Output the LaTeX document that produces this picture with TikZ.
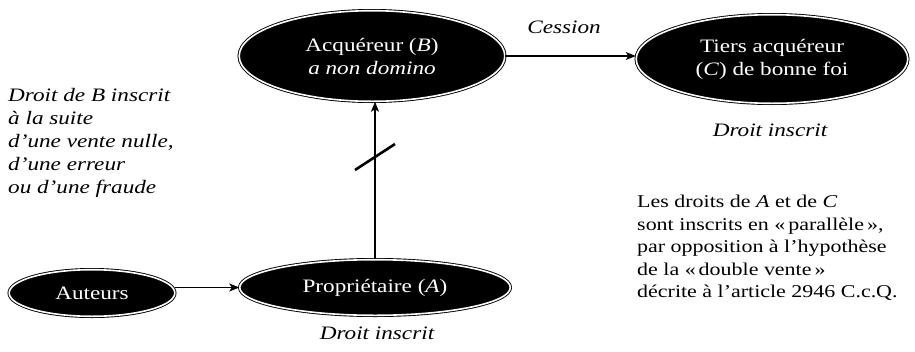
\documentclass[tikz,border=0pt]{standalone}
\usepackage{fontspec}
\setmainfont{Liberation Serif}[FakeStretch=1.22]
\usetikzlibrary{shapes.geometric,arrows.meta}
\begin{document}
\begin{tikzpicture}[x=1pt,y=-1pt,
  blob/.style={ellipse, draw=black, line width=0.9pt, double=white, double distance=1.6pt,
    fill=black, text=white, inner sep=0pt, align=center, font=\fontsize{19}{23}\selectfont},
  arr/.style={-{Stealth[length=10pt,width=8pt,inset=2.5pt]}, line width=1.1pt},
  lab/.style={font=\fontsize{19}{23}\selectfont\itshape, inner sep=0pt},
  note/.style={font=\fontsize{18}{22.5}\selectfont, align=left, inner sep=0pt},
  inote/.style={font=\fontsize{19}{23}\selectfont\itshape, align=left, inner sep=0pt}]
\fill[white] (0,0) rectangle (915,351);
\useasboundingbox (0,0) rectangle (915,351);

\node[blob, minimum width=265.6pt, minimum height=90.6pt] (B) at (372,56)
  {Acquéreur (\textit{B})\\\textit{a non domino}};
\node[blob, minimum width=271.6pt, minimum height=88.6pt] (C) at (772,59)
  {Tiers acquéreur\\(\textit{C}) de bonne foi};
\node[blob, minimum width=165.6pt, minimum height=46.6pt] (Aut) at (92,293) {Auteurs};
\node[blob, minimum width=270.6pt, minimum height=55.6pt] (A) at (375,287.5)
  {Propriétaire (\textit{A})};

\draw[arr] (B.east) -- (B.east -| C.west);
\node[lab] (ces) at (564,27) {Cession};
\draw[arr] (Aut.east |- A.west) -- (A.west);
\draw[arr] (A.north) -- (A.north |- B.south);
\coordinate (cut) at (375,157);
\draw[line width=2.6pt] ([shift={(-20,13)}]cut) -- ([shift={(20,-13)}]cut);

\node[lab] (dc) at (770,130) {Droit inscrit};
\node[lab] (da) at (377,333) {Droit inscrit};

\node[inote, anchor=west] (left) at (8,143)
  {Droit de B inscrit\\à la suite\\d’une vente nulle,\\d’une erreur\\ou d’une fraude};
\node[note, anchor=west] (right) at (637,248)
  {Les droits de \textit{A} et de \textit{C}\\sont inscrits en «\,parallèle\,»,\\par opposition à l’hypothèse\\de la «\,double vente\,»\\décrite à l’article 2946 C.c.Q.};
\end{tikzpicture}
\end{document}
